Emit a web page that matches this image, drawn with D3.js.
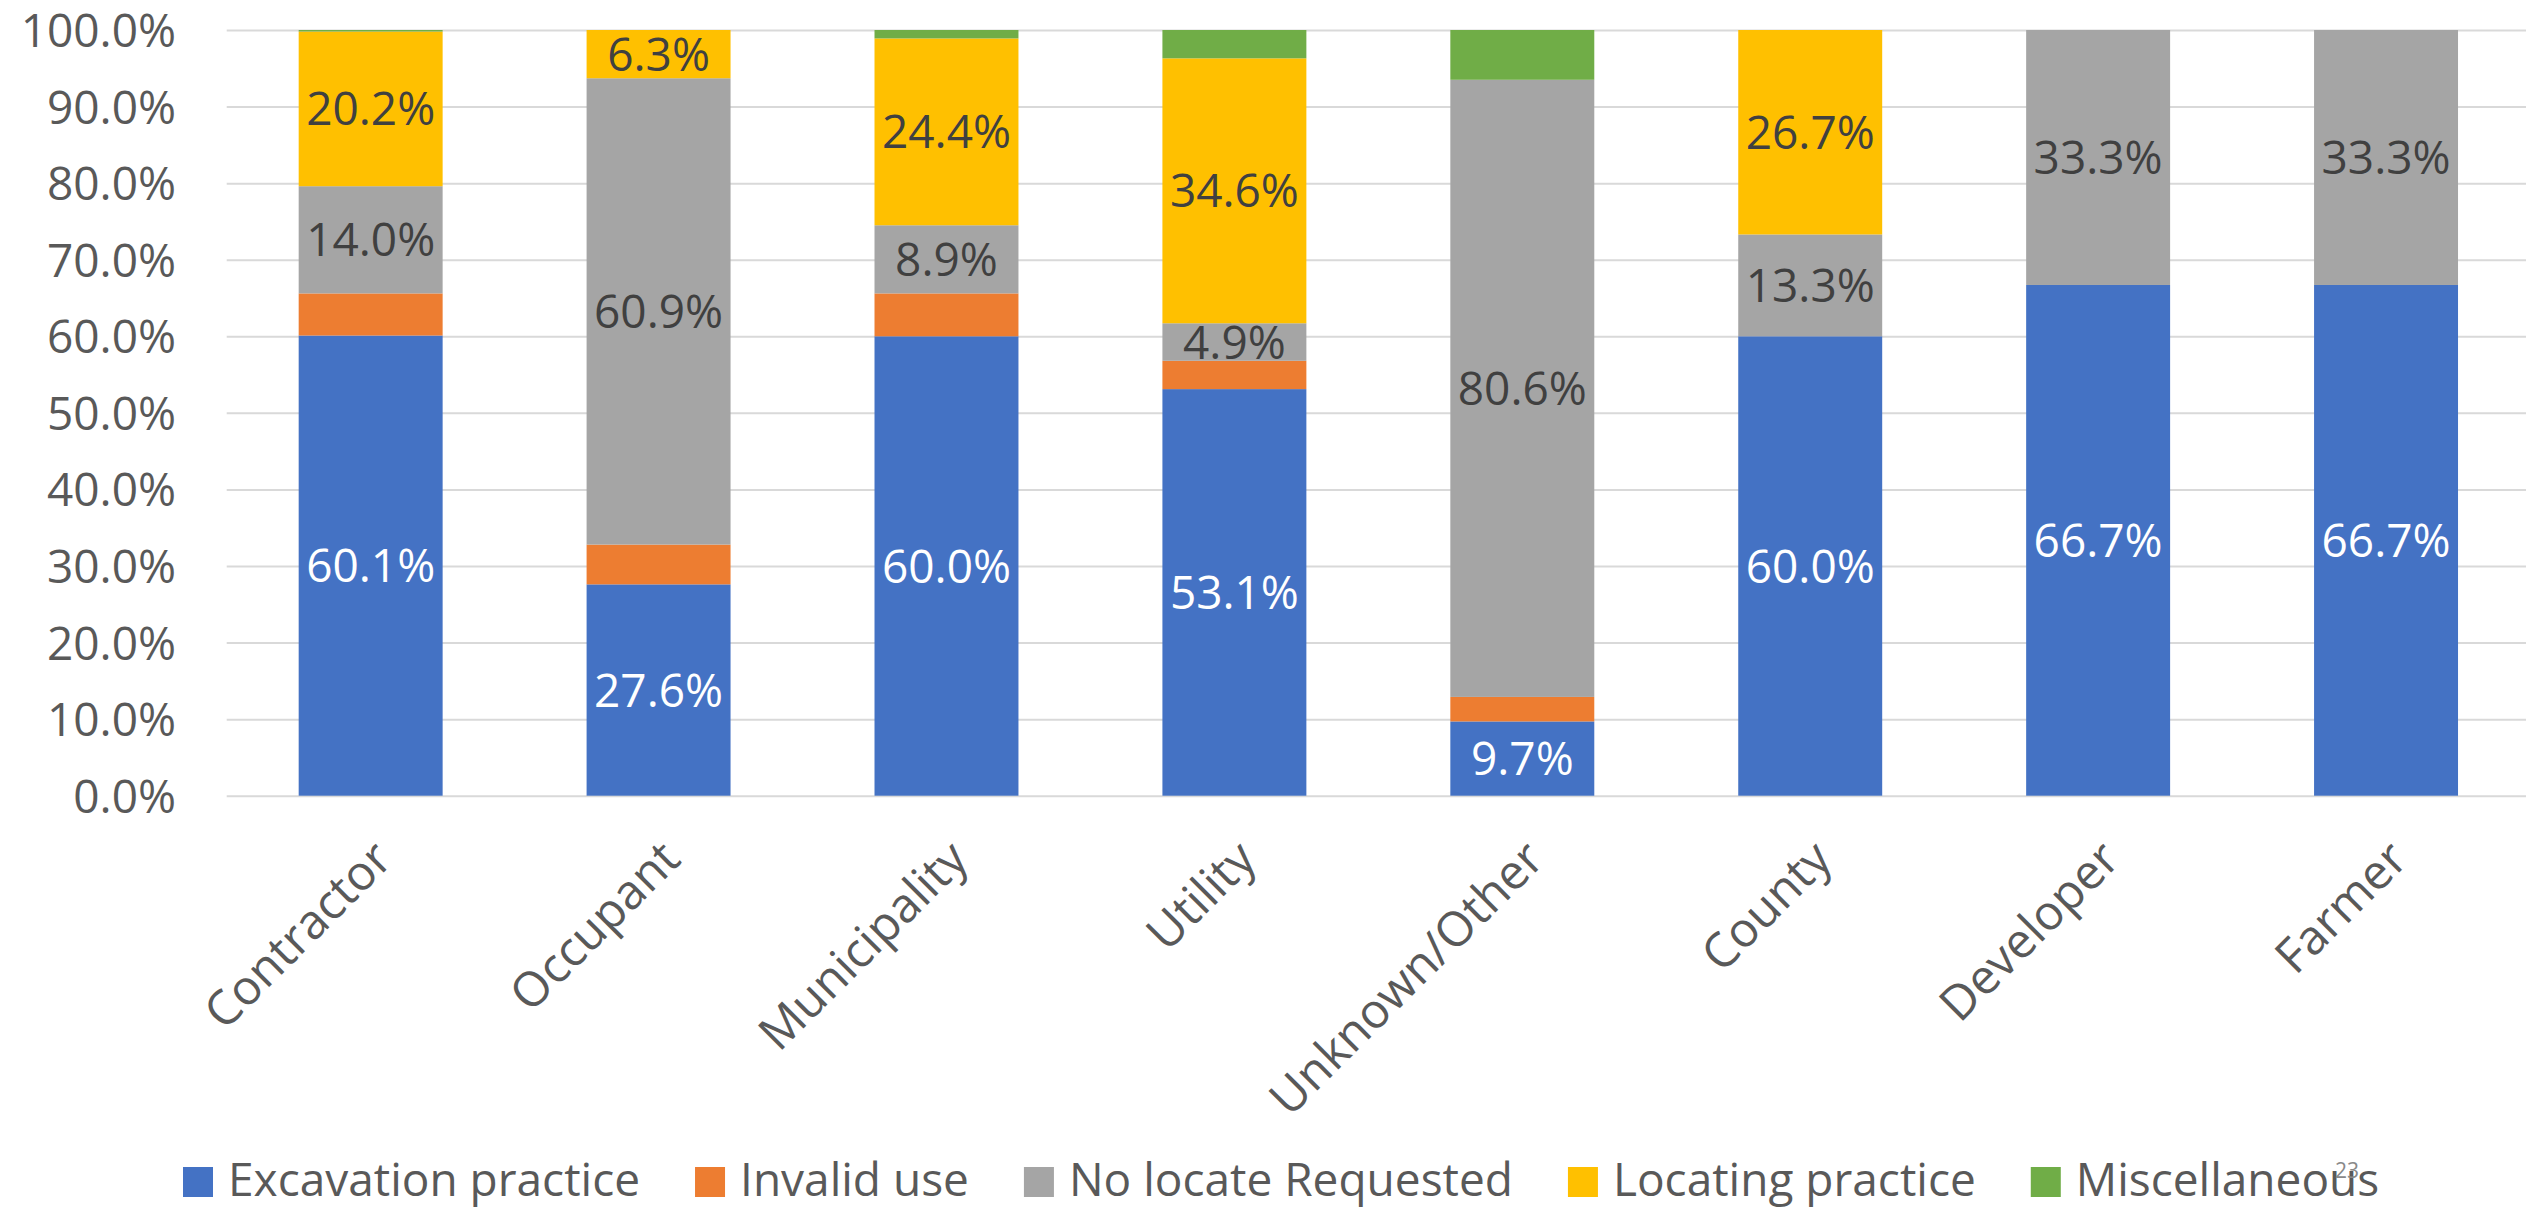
<!DOCTYPE html>
<html>
<head>
<meta charset="utf-8">
<script src="https://cdn.jsdelivr.net/npm/d3@7"></script>
<style>
  html, body { margin: 0; padding: 0; background: #ffffff; }
  svg { display: block; }
  text { font-family: "Open Sans", "Noto Sans", sans-serif; }
</style>
</head>
<body>
<svg id="chart" width="2526" height="1209"></svg>
<script>
// ---- data ----
const categories = ["Contractor", "Occupant", "Municipality", "Utility", "Unknown/Other", "County", "Developer", "Farmer"];
const seriesNames = ["Excavation practice", "Invalid use", "No locate Requested", "Locating practice", "Miscellaneous"];
const excavationPractice = [60.1, 27.6, 60.0, 53.1, 9.7, 60.0, 66.7, 66.7];
const invalidUse         = [5.5, 5.2, 5.6, 3.7, 3.2, 0, 0, 0];
const noLocateRequested  = [14.0, 60.9, 8.9, 4.9, 80.6, 13.3, 33.3, 33.3];
const locatingPractice   = [20.2, 6.3, 24.4, 34.6, 0, 26.7, 0, 0];
const miscellaneous      = [0.2, 0, 1.1, 3.7, 6.5, 0, 0, 0];
const yTickValues = [0, 10, 20, 30, 40, 50, 60, 70, 80, 90, 100];
const pageNumber = "23";

// ---- styles ----
const colors = ["#4472C4", "#ED7D31", "#A5A5A5", "#FFC000", "#70AD47"];
const labelColors = ["#FFFFFF", null, "#404040", "#404040", null];

const seriesValues = [excavationPractice, invalidUse, noLocateRequested, locatingPractice, miscellaneous];
const table = categories.map((c, i) => {
  const row = { category: c };
  seriesNames.forEach((s, j) => { row[s] = seriesValues[j][i]; });
  return row;
});

const svg = d3.select("#chart");
const plot = { left: 226.7, right: 2530, top: 30, bottom: 795.7 };

const x = d3.scaleBand().domain(categories).range([plot.left, plot.right]).paddingInner(0.5).paddingOuter(0.25);
const y = d3.scaleLinear().domain([0, 100]).range([plot.bottom, plot.top]);

// gridlines + y tick labels
const yAxis = d3.axisLeft(y).tickValues(yTickValues).tickSize(-(plot.right - plot.left)).tickFormat(d => d.toFixed(1) + "%");
const gy = svg.append("g").attr("transform", `translate(${plot.left},0)`).call(yAxis);
gy.select(".domain").remove();
gy.selectAll(".tick line").attr("stroke", "#D9D9D9").attr("stroke-width", 2);
gy.selectAll(".tick text")
  .attr("x", -50.7)
  .attr("dy", "0.36em")
  .attr("fill", "#595959")
  .style("font-size", "46px")
  .style("font-family", "'Open Sans', sans-serif");

// stacked bars
const stack = d3.stack().keys(seriesNames);
const stacked = stack(table);

const layers = svg.append("g").selectAll("g").data(stacked).join("g")
  .attr("fill", (d, i) => colors[i]);

layers.selectAll("rect").data(d => d).join("rect")
  .attr("x", d => x(d.data.category))
  .attr("width", x.bandwidth())
  .attr("y", d => y(d[1]))
  .attr("height", d => Math.max(0, y(d[0]) - y(d[1])));

// data labels
const labelG = svg.append("g");
stacked.forEach((layer, i) => {
  if (!labelColors[i]) return;
  layer.forEach(d => {
    const v = d[1] - d[0];
    if (v <= 0) return;
    labelG.append("text")
      .attr("x", x(d.data.category) + x.bandwidth() / 2)
      .attr("y", y((d[0] + d[1]) / 2))
      .attr("dy", "0.36em")
      .attr("text-anchor", "middle")
      .attr("fill", labelColors[i])
      .style("font-size", "46px")
      .text(d.data[layer.key].toFixed(1) + "%");
  });
});

// category axis labels (rotated)
const xAxis = d3.axisBottom(x).tickSize(0).tickPadding(0);
const gx = svg.append("g").attr("transform", `translate(0,${plot.bottom})`).call(xAxis);
gx.select(".domain").remove();
gx.selectAll(".tick text")
  .attr("fill", "#595959")
  .style("font-size", "48px")
  .style("font-family", "'Open Sans', sans-serif")
  .attr("text-anchor", "end")
  .attr("dy", null)
  .attr("y", 0)
  .attr("transform", "translate(24,66) rotate(-45)");

// legend
const legend = svg.append("g");
let lx = 183;
const legendBaseline = 1196;
seriesNames.forEach((name, i) => {
  legend.append("rect").attr("x", lx).attr("y", 1167).attr("width", 30).attr("height", 30).attr("fill", colors[i]);
  const t = legend.append("text").attr("x", lx + 45).attr("y", legendBaseline)
    .attr("fill", "#595959").style("font-size", "46px").text(name);
  lx += 45 + t.node().getComputedTextLength() + 55;
});

// page number
svg.append("text").attr("x", 2335).attr("y", 1178).attr("fill", "#898989").style("font-size", "21px").text(pageNumber);
</script>
</body>
</html>
